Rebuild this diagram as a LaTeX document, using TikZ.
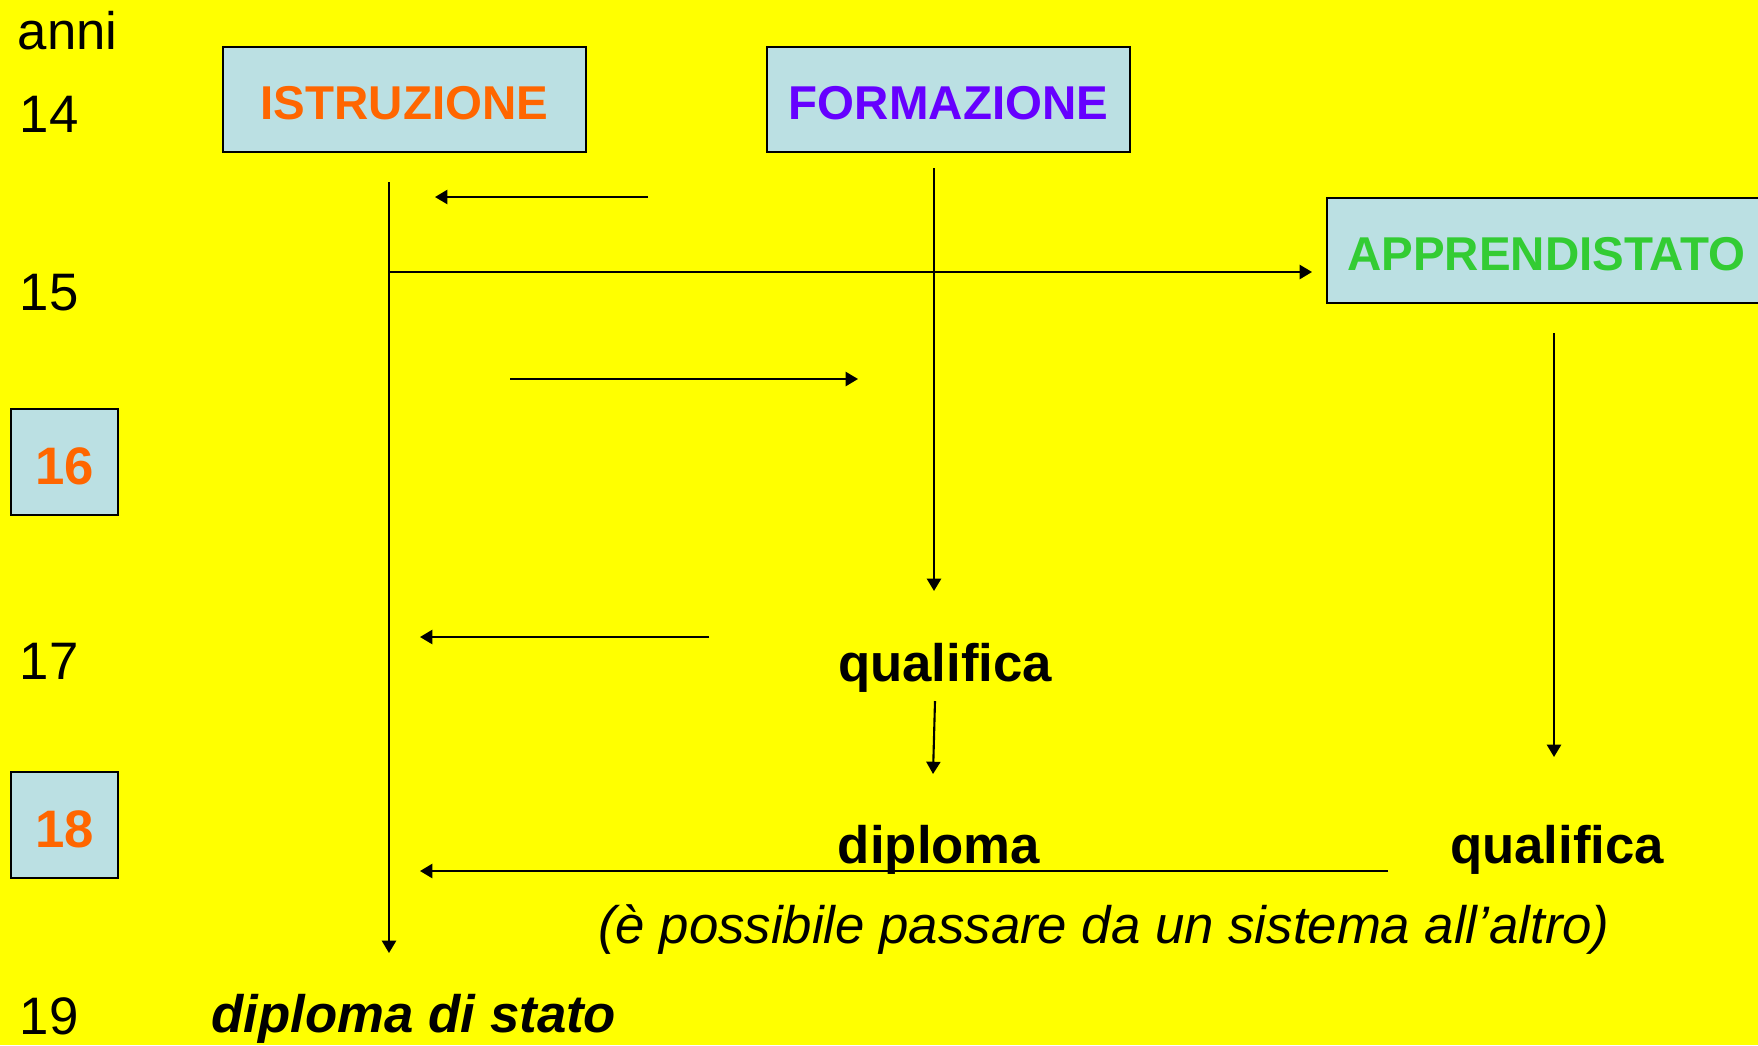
\documentclass[tikz,border=0pt]{standalone}
\usepackage{fontspec}
\setmainfont{Liberation Sans}
\usetikzlibrary{arrows.meta}
\definecolor{sfondo}{RGB}{255,255,0}
\definecolor{azzurro}{RGB}{187,224,227}
\definecolor{arancio}{RGB}{255,102,0}
\definecolor{viola}{RGB}{102,0,255}
\definecolor{verde}{RGB}{51,204,51}
\tikzset{
    sistema/.style={draw=black, fill=azzurro, line width=0.7pt, minimum width=3.63cm, minimum height=1.05cm, text height=11.6pt, text depth=0pt, font=\fontsize{13.5}{16}\selectfont\bfseries},
    eta/.style={anchor=west, inner sep=0pt, font=\fontsize{15}{18}\selectfont},
    etabox/.style={draw=black, fill=azzurro, line width=0.7pt, minimum width=1.07cm, minimum height=1.06cm, text height=12.8pt, text depth=0pt, text=arancio, font=\fontsize{15}{18}\selectfont\bfseries},
    titolo/.style={inner sep=0pt, font=\fontsize{15}{18}\selectfont\bfseries},
    freccia/.style={-{Triangle[length=3.5pt,width=4pt]}, line width=0.6pt}
}
\begin{document}
\begin{tikzpicture}[x=0.01cm, y=-0.01cm]
    \fill[sfondo] (0,0) rectangle (1758,1045);
    \useasboundingbox (0,0) rectangle (1758,1045);
    \node[eta] (anni) at (17,31) {anni};
    \node[eta] (e14) at (19,114) {14};
    \node[eta] (e15) at (19,293) {15};
    \node[etabox] (e16) at (64.5,462) {16};
    \node[eta] (e17) at (19,661) {17};
    \node[etabox] (e18) at (64.5,825) {18};
    \node[eta] (e19) at (19,1016) {19};
    \node[sistema, text=arancio] (istr) at (404.5,99.5) {ISTRUZIONE};
    \node[sistema, text=viola] (form) at (948.5,99.5) {FORMAZIONE};
    \node[sistema, text=verde, minimum width=4.38cm, anchor=west] (appr) at (1326,250.5) {APPRENDISTATO};
    \node[titolo] (qual1) at (945,668) {qualifica};
    \node[titolo] (dipl) at (939,850) {diploma};
    \node[titolo] (qual2) at (1557,850) {qualifica};
    \node[inner sep=0pt, font=\fontsize{15}{18}\selectfont\itshape] (nota) at (1104,930) {(è possibile passare da un sistema all’altro)};
    \node[titolo, anchor=west, font=\fontsize{15}{18}\selectfont\bfseries\itshape] (stato) at (211,1019) {diploma di stato};
    \coordinate (istrA) at (389,182);
    \coordinate (istrB) at (389,953);
    \coordinate (rientroA) at (648,197);
    \coordinate (rientroB) at (435,197);
    \coordinate (apprA) at (389,272);
    \coordinate (apprB) at (1312,272);
    \coordinate (passA) at (510,379);
    \coordinate (passB) at (858,379);
    \coordinate (formA) at (934,168);
    \coordinate (formB) at (934,591);
    \coordinate (qualA) at (709,637);
    \coordinate (qualB) at (420,637);
    \coordinate (diplA) at (935,701);
    \coordinate (diplB) at (933,774);
    \coordinate (uscitaA) at (1388,871);
    \coordinate (uscitaB) at (420,871);
    \coordinate (appA) at (1554,333);
    \coordinate (appB) at (1554,757);
    \draw[freccia] (istrA) -- (istrB);
    \draw[freccia] (rientroA) -- (rientroB);
    \draw[freccia] (apprA) -- (apprB);
    \draw[freccia] (passA) -- (passB);
    \draw[freccia] (formA) -- (formB);
    \draw[freccia] (qualA) -- (qualB);
    \draw[freccia] (diplA) -- (diplB);
    \draw[freccia] (uscitaA) -- (uscitaB);
    \draw[freccia] (appA) -- (appB);
\end{tikzpicture}
\end{document}
